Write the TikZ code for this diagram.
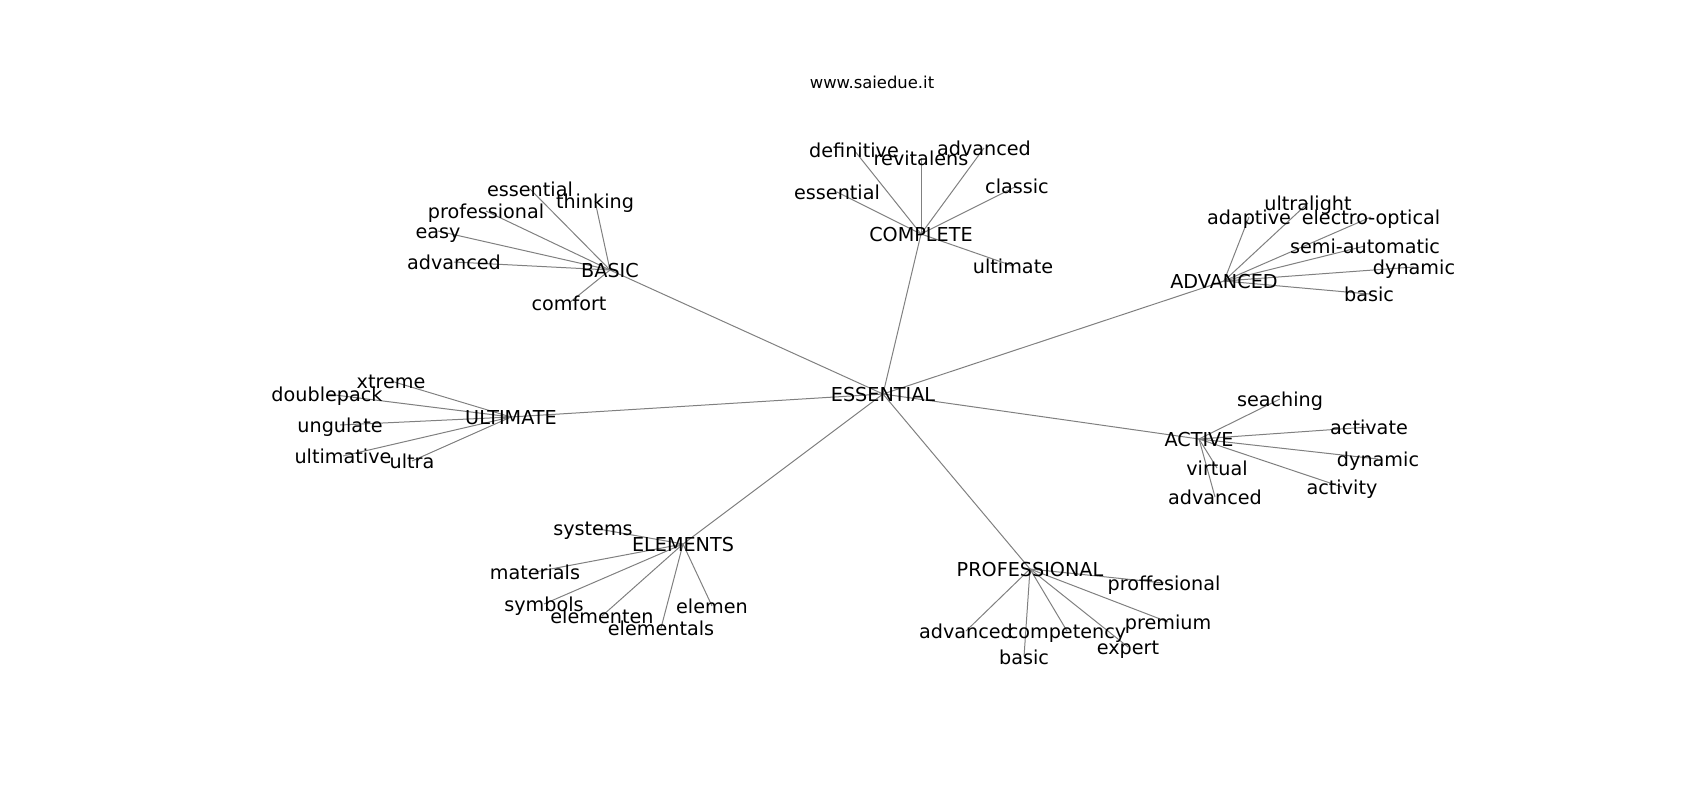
\documentclass[tikz,border=0pt]{standalone}
\usepackage{fontspec}
\setmainfont{DejaVu Sans}
\usepackage{tikz}
\usetikzlibrary{backgrounds}
\definecolor{edgegray}{rgb}{0.5,0.5,0.5}

\begin{document}
\begin{tikzpicture}[x=1pt,y=-1pt,line cap=round,line join=round,
    word/.style={inner sep=0pt,text height=16.5pt,text depth=2.5pt,font=\fontsize{19.2}{22}\selectfont},
    head/.style={inner sep=0pt,font=\fontsize{16.4}{19}\selectfont},
    link/.style={line width=1pt,color=edgegray}]
                \useasboundingbox (0,0) rectangle (1700,800);
                \node[head] (title) at (872,82) {www.saiedue.it};
                % hubs
                \node[word] (ess) at (883,394) {ESSENTIAL};
                \node[word] (basic) at (610,270) {BASIC};
                \node[word] (complete) at (921,234) {COMPLETE};
                \node[word] (adv) at (1224,281) {ADVANCED};
                \node[word] (ult) at (511,417) {ULTIMATE};
                \node[word] (act) at (1199,439) {ACTIVE};
                \node[word] (elem) at (683,544) {ELEMENTS};
                \node[word] (prof) at (1030,569) {PROFESSIONAL};
                % BASIC
                \node[word] (basicA) at (530,189) {essential};
                \node[word] (basicB) at (595,201) {thinking};
                \node[word] (basicC) at (486,211) {professional};
                \node[word] (basicD) at (438,231) {easy};
                \node[word] (basicE) at (454,262) {advanced};
                \node[word] (basicF) at (569,303) {comfort};
                % COMPLETE
                \node[word] (compA) at (854,150) {definitive};
                \node[word] (compB) at (921,158) {revitalens};
                \node[word] (compC) at (984,148) {advanced};
                \node[word] (compD) at (1017,186) {classic};
                \node[word] (compE) at (837,192) {essential};
                \node[word] (compF) at (1013,266) {ultimate};
                % ADVANCED
                \node[word] (advA) at (1308,203) {ultralight};
                \node[word] (advB) at (1249,217) {adaptive};
                \node[word] (advC) at (1371,217) {electro-optical};
                \node[word] (advD) at (1365,246) {semi-automatic};
                \node[word] (advE) at (1414,267) {dynamic};
                \node[word] (advF) at (1369,294) {basic};
                % ULTIMATE
                \node[word] (ultA) at (391,381) {xtreme};
                \node[word] (ultB) at (327,394) {doublepack};
                \node[word] (ultC) at (340,425) {ungulate};
                \node[word] (ultD) at (343,456) {ultimative};
                \node[word] (ultE) at (412,461) {ultra};
                % ACTIVE
                \node[word] (actA) at (1280,399) {seaching};
                \node[word] (actB) at (1369,427) {activate};
                \node[word] (actC) at (1378,459) {dynamic};
                \node[word] (actD) at (1342,487) {activity};
                \node[word] (actE) at (1217,468) {virtual};
                \node[word] (actF) at (1215,497) {advanced};
                % ELEMENTS
                \node[word] (elemA) at (593,528) {systems};
                \node[word] (elemB) at (535,572) {materials};
                \node[word] (elemC) at (544,604) {symbols};
                \node[word] (elemD) at (602,616) {elementen};
                \node[word] (elemE) at (661,628) {elementals};
                \node[word] (elemF) at (712,606) {elemen};
                % PROFESSIONAL
                \node[word] (profA) at (1164,583) {proffesional};
                \node[word] (profB) at (1168,622) {premium};
                \node[word] (profC) at (966,631) {advanced};
                \node[word] (profD) at (1067,631) {competency};
                \node[word] (profE) at (1128,647) {expert};
                \node[word] (profF) at (1024,657) {basic};
                \begin{scope}[on background layer]
                \foreach \h in {basic,complete,adv,ult,act,elem,prof}
                    \draw[link] (ess.center) -- (\h.center);
                \foreach \k in {basicA,basicB,basicC,basicD,basicE,basicF}
                    \draw[link] (basic.center) -- (\k.center);
                \foreach \k in {compA,compB,compC,compD,compE,compF}
                    \draw[link] (complete.center) -- (\k.center);
                \foreach \k in {advA,advB,advC,advD,advE,advF}
                    \draw[link] (adv.center) -- (\k.center);
                \foreach \k in {ultA,ultB,ultC,ultD,ultE}
                    \draw[link] (ult.center) -- (\k.center);
                \foreach \k in {actA,actB,actC,actD,actE,actF}
                    \draw[link] (act.center) -- (\k.center);
                \foreach \k in {elemA,elemB,elemC,elemD,elemE,elemF}
                    \draw[link] (elem.center) -- (\k.center);
                \foreach \k in {profA,profB,profC,profD,profE,profF}
                    \draw[link] (prof.center) -- (\k.center);
                \end{scope}
            \end{tikzpicture}
\end{document}
